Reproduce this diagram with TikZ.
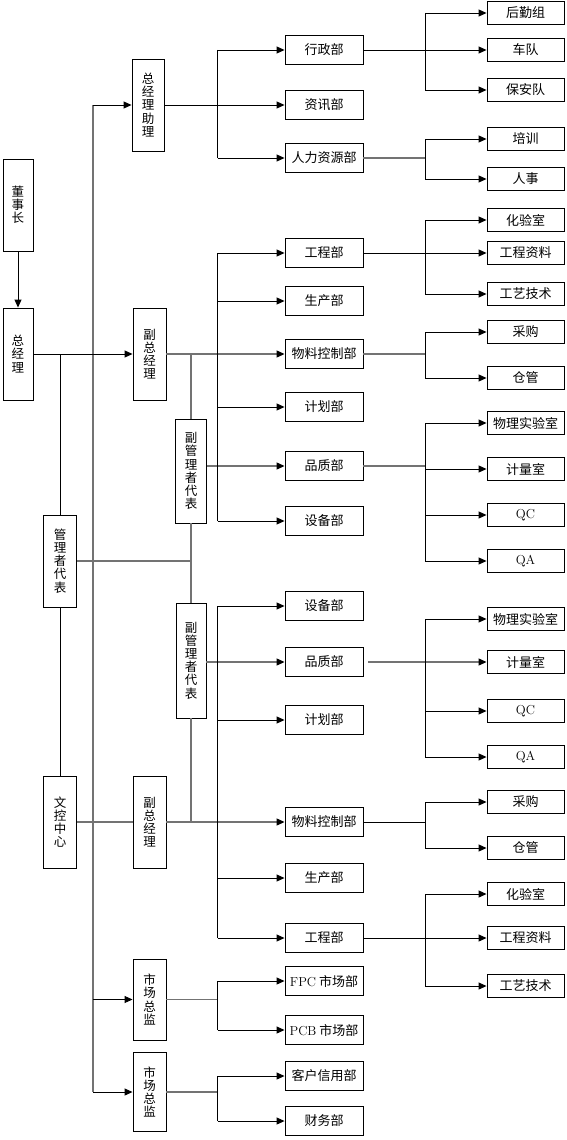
\documentclass[tikz,border=0pt]{standalone}
\usepackage{fontspec}
\newfontfamily\cjk{Noto Sans CJK SC}
\usetikzlibrary{arrows.meta}
\begin{document}
\begin{tikzpicture}[x=1pt,y=-1pt,
 box/.style={draw,line width=0.9pt,inner sep=0pt,fill=white,font=\cjk\fontsize{13}{13}\selectfont},
 lvtwo/.style={box,minimum width=78pt,minimum height=29pt},
 lvthree/.style={box,minimum width=77pt,minimum height=23pt},
 vbox/.style={box,minimum width=32pt,align=center,font=\cjk\fontsize{12.5}{13.2}\selectfont},
 ln/.style={line width=0.9pt,draw=black},
 gln/.style={line width=1.2pt,draw=black!55},
 arr/.style={-{Triangle[length=8pt,width=7pt,color=black]}},
]
\useasboundingbox (0,0) rectangle (566,1140);

% left column
\node[vbox,minimum width=30pt,minimum height=92pt] (dsz) at (18,205) {董\\事\\长};
\node[vbox,minimum width=30pt,minimum height=92pt] (zjl) at (18,354) {总\\经\\理};
\node[vbox,minimum height=92pt] (zjlzl) at (148,105) {总\\经\\理\\助\\理};
\node[vbox,minimum width=33pt,minimum height=92pt] (fzjl1) at (149.5,354) {副\\总\\经\\理};
\node[vbox,minimum width=33pt,minimum height=92pt] (glzdb) at (60,561) {管\\理\\者\\代\\表};
\node[vbox,minimum width=33pt,minimum height=92pt] (wkzx) at (60,822) {文\\控\\中\\心};
\node[vbox,minimum width=31pt,minimum height=104pt] (fgl1) at (191,471) {副\\管\\理\\者\\代\\表};
\node[vbox,minimum width=30pt,minimum height=115pt] (fgl2) at (191,660.5) {副\\管\\理\\者\\代\\表};
\node[vbox,minimum width=33pt,minimum height=92pt] (fzjl2) at (149.5,822) {副\\总\\经\\理};
\node[vbox,minimum width=33pt,minimum height=81pt] (sczj1) at (149.5,999.5) {市\\场\\总\\监};
\node[vbox,minimum width=33pt,minimum height=79pt] (sczj2) at (149.5,1092) {市\\场\\总\\监};

% level 2
\node[lvtwo] (xzb) at (324,50) {行政部};
\node[lvtwo] (zxb) at (324,105) {资讯部};
\node[lvtwo] (rlzy) at (324,158) {人力资源部};
\node[lvtwo] (gcb1) at (324,253) {工程部};
\node[lvtwo] (scb1) at (324,301) {生产部};
\node[lvtwo] (wlkz1) at (324,354) {物料控制部};
\node[lvtwo] (jhb1) at (324,407) {计划部};
\node[lvtwo] (pzb1) at (324,466) {品质部};
\node[lvtwo] (sbb1) at (324,521) {设备部};
\node[lvtwo] (sbb2) at (324,606) {设备部};
\node[lvtwo] (pzb2) at (324,662) {品质部};
\node[lvtwo] (jhb2) at (324,720) {计划部};
\node[lvtwo] (wlkz2) at (324,822) {物料控制部};
\node[lvtwo] (scb2) at (324,878) {生产部};
\node[lvtwo] (gcb2) at (324,938) {工程部};
\node[lvtwo] (fpc) at (324,981) {{\rmfamily FPC} 市场部};
\node[lvtwo] (pcb) at (324,1030) {{\rmfamily PCB} 市场部};
\node[lvtwo] (khxy) at (324,1076) {客户信用部};
\node[lvtwo] (cwb) at (324,1121) {财务部};

% level 3
\node[lvthree] (hqz) at (525.5,13) {后勤组};
\node[lvthree] (cd) at (525.5,50) {车队};
\node[lvthree] (bad) at (525.5,90) {保安队};
\node[lvthree] (px) at (525.5,139) {培训};
\node[lvthree] (rs) at (525.5,179) {人事};
\node[lvthree] (hys1) at (525.5,220) {化验室};
\node[lvthree] (gczl1) at (525.5,253) {工程资料};
\node[lvthree] (gyjs1) at (525.5,294) {工艺技术};
\node[lvthree] (cg1) at (525.5,332) {采购};
\node[lvthree] (cgg1) at (525.5,378) {仓管};
\node[lvthree] (wlsys1) at (525.5,423) {物理实验室};
\node[lvthree] (jls1) at (525.5,469) {计量室};
\node[lvthree] (qc1) at (525.5,515) {{\rmfamily QC}};
\node[lvthree] (qa1) at (525.5,561) {{\rmfamily QA}};
\node[lvthree] (wlsys2) at (525.5,619) {物理实验室};
\node[lvthree] (jls2) at (525.5,662) {计量室};
\node[lvthree] (qc2) at (525.5,711) {{\rmfamily QC}};
\node[lvthree] (qa2) at (525.5,757) {{\rmfamily QA}};
\node[lvthree] (cg2) at (525.5,802) {采购};
\node[lvthree] (cgg2) at (525.5,848) {仓管};
\node[lvthree] (hys2) at (525.5,894) {化验室};
\node[lvthree] (gczl2) at (525.5,938) {工程资料};
\node[lvthree] (gyjs2) at (525.5,986) {工艺技术};

% trunk coordinates
\coordinate (T0) at (93,105);
\coordinate (T1) at (93,1092);
\coordinate (A) at (217.5,0);
\coordinate (B) at (425,0);

% left connectors
\draw[ln,arr] (dsz) -- (zjl);
\draw[gln] (T0) -- (T1);
\draw[ln,arr] (T0) -- (zjlzl.west);
\draw[ln,arr] (T0 |- sczj1) -- (sczj1.west);
\draw[ln,arr] (T1) -- (sczj2.west);
\draw[ln,arr] (zjl.east) -- (fzjl1.west);
\draw[ln] (glzdb.north |- zjl.east) -- (glzdb.north);
\draw[ln] (glzdb.south) -- (wkzx.north);
\draw[gln] (fgl1.north |- fzjl1.east) -- (fgl1.north);
\draw[gln] (fgl1.south) -- (fgl2.north);
\draw[gln] (fgl2.south) -- (fgl2.south |- fzjl2.east);
\draw[gln] (glzdb.east) -- (glzdb.east -| fgl1.south);
\draw[gln] (wkzx.east) -- (fzjl2.west);

% level 2 connectors
\draw[ln,arr] (zjlzl.east) -- (zxb.west);
\draw[ln] (A |- xzb) -- (A |- rlzy);
\draw[ln,arr] (A |- xzb) -- (xzb.west);
\draw[ln,arr] (A |- rlzy) -- (rlzy.west);

\draw[gln,arr] (fzjl1.east) -- (wlkz1.west);
\draw[gln,arr] (fgl1.east |- pzb1) -- (pzb1.west);
\draw[ln] (A |- gcb1) -- (A |- sbb1);
\draw[ln,arr] (A |- gcb1) -- (gcb1.west);
\draw[ln,arr] (A |- scb1) -- (scb1.west);
\draw[ln,arr] (A |- jhb1) -- (jhb1.west);
\draw[ln,arr] (A |- sbb1) -- (sbb1.west);

\draw[gln,arr] (fgl2.east |- pzb2) -- (pzb2.west);
\draw[gln,arr] (fzjl2.east) -- (wlkz2.west);
\draw[ln] (A |- sbb2) -- (A |- gcb2);
\draw[ln,arr] (A |- sbb2) -- (sbb2.west);
\draw[ln,arr] (A |- jhb2) -- (jhb2.west);
\draw[ln,arr] (A |- scb2) -- (scb2.west);
\draw[ln,arr] (A |- gcb2) -- (gcb2.west);

\draw[gln] (sczj1.east) -- (A |- sczj1);
\draw[ln] (A |- fpc) -- (A |- pcb);
\draw[ln,arr] (A |- fpc) -- (fpc.west);
\draw[ln,arr] (A |- pcb) -- (pcb.west);
\draw[gln] (sczj2.east) -- (A |- sczj2);
\draw[ln] (A |- khxy) -- (A |- cwb);
\draw[ln,arr] (A |- khxy) -- (khxy.west);
\draw[ln,arr] (A |- cwb) -- (cwb.west);

% level 3 connectors
\draw[ln,arr] (xzb.east) -- (cd.west);
\draw[ln] (B |- hqz) -- (B |- bad);
\draw[ln,arr] (B |- hqz) -- (hqz.west);
\draw[ln,arr] (B |- bad) -- (bad.west);

\draw[gln] (rlzy.east) -- (B |- rlzy);
\draw[ln] (B |- px) -- (B |- rs);
\draw[ln,arr] (B |- px) -- (px.west);
\draw[ln,arr] (B |- rs) -- (rs.west);

\draw[ln,arr] (gcb1.east) -- (gczl1.west);
\draw[ln] (B |- hys1) -- (B |- gyjs1);
\draw[ln,arr] (B |- hys1) -- (hys1.west);
\draw[ln,arr] (B |- gyjs1) -- (gyjs1.west);

\draw[gln] (wlkz1.east) -- (B |- wlkz1);
\draw[ln] (B |- cg1) -- (B |- cgg1);
\draw[ln,arr] (B |- cg1) -- (cg1.west);
\draw[ln,arr] (B |- cgg1) -- (cgg1.west);

\draw[gln] (pzb1.east) -- (B |- pzb1);
\draw[ln] (B |- wlsys1) -- (B |- qa1);
\draw[ln,arr] (B |- wlsys1) -- (wlsys1.west);
\draw[ln,arr] (B |- jls1) -- (jls1.west);
\draw[ln,arr] (B |- qc1) -- (qc1.west);
\draw[ln,arr] (B |- qa1) -- (qa1.west);

\draw[gln,arr] ([xshift=5pt]pzb2.east) -- (jls2.west);
\draw[ln] (B |- wlsys2) -- (B |- qa2);
\draw[ln,arr] (B |- wlsys2) -- (wlsys2.west);
\draw[ln,arr] (B |- qc2) -- (qc2.west);
\draw[ln,arr] (B |- qa2) -- (qa2.west);

\draw[ln] (wlkz2.east) -- (B |- wlkz2);
\draw[ln] (B |- cg2) -- (B |- cgg2);
\draw[ln,arr] (B |- cg2) -- (cg2.west);
\draw[ln,arr] (B |- cgg2) -- (cgg2.west);

\draw[ln,arr] (gcb2.east) -- (gczl2.west);
\draw[ln] (B |- hys2) -- (B |- gyjs2);
\draw[ln,arr] (B |- hys2) -- (hys2.west);
\draw[ln,arr] (B |- gyjs2) -- (gyjs2.west);
\end{tikzpicture}
\end{document}
